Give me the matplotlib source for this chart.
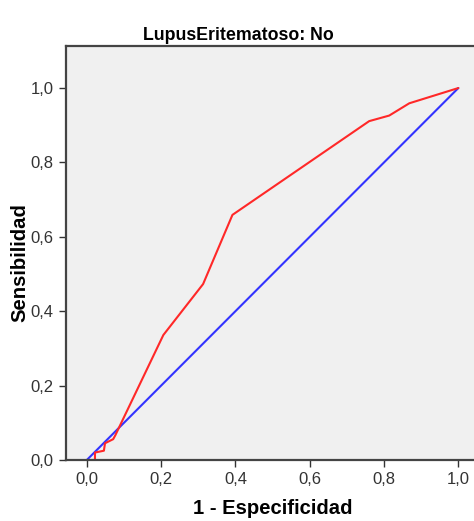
import matplotlib
matplotlib.use("Agg")
import matplotlib.pyplot as plt

# curva ROC (1 - especificidad, sensibilidad)
fpr = [0.0, 0.022, 0.022, 0.046, 0.049, 0.071, 0.077, 0.206, 0.313, 0.392,
       0.760, 0.814, 0.868, 1.0]
tpr = [0.0, 0.0, 0.020, 0.025, 0.045, 0.056, 0.067, 0.336, 0.473, 0.659,
       0.911, 0.926, 0.959, 1.0]
ref_x = [0.0, 1.0]
ref_y = [0.0, 1.0]
ticks = [0.0, 0.2, 0.4, 0.6, 0.8, 1.0]
tick_labels = ["0,0", "0,2", "0,4", "0,6", "0,8", "1,0"]

plt.rcParams['font.family'] = ['Liberation Sans', 'DejaVu Sans']

W, H = 474, 521
fig = plt.figure(figsize=(W / 100, H / 100), dpi=100)
left, right, top, bottom = 66, 481, 46, 460
ax = fig.add_axes([left / W, 1 - bottom / H, (right - left) / W, (bottom - top) / H])
ax.set_facecolor('#f0f0f0')

ax.plot(ref_x, ref_y, color='#3333ff', lw=1.5, solid_capstyle='round')
ax.plot(fpr, tpr, color='#ff2828', lw=1.5, solid_capstyle='round')

ax.set_xlim(-0.056, 1.061)
ax.set_ylim(0, 1.113)
ax.set_xticks(ticks)
ax.set_xticklabels(tick_labels)
ax.set_yticks(ticks)
ax.set_yticklabels(tick_labels)
ax.tick_params(labelsize=12, length=5, width=1, color='#333333', labelcolor='#333333', pad=4)

for s in ['left', 'bottom', 'top']:
    ax.spines[s].set_color('#444444')
    ax.spines[s].set_linewidth(1.6)
ax.spines['right'].set_visible(False)

fig.text(238 / W, 1 - 35 / H, "LupusEritematoso: No", ha='center', va='center',
         fontsize=12.8, fontweight='bold')
fig.text(273 / W, 1 - 509 / H, "1 - Especificidad", ha='center', va='center',
         fontsize=14.6, fontweight='bold')
fig.text(20 / W, 1 - 263 / H, "Sensibilidad", ha='center', va='center',
         rotation=90, fontsize=14.6, fontweight='bold')

fig.savefig("out.png", dpi=100)
